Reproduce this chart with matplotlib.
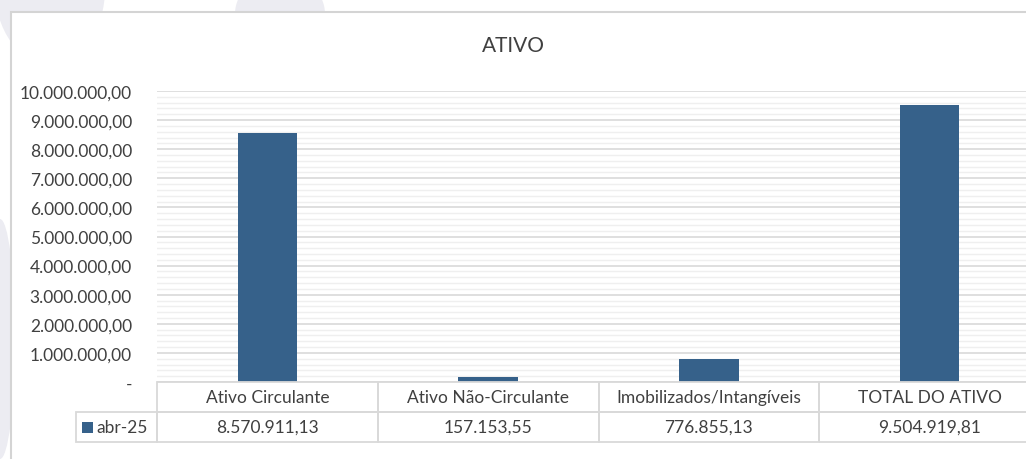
import matplotlib.pyplot as plt
from matplotlib.patches import Rectangle, Ellipse
from matplotlib.ticker import FuncFormatter, MultipleLocator
from matplotlib.transforms import blended_transform_factory

categories = ['Ativo Circulante', 'Ativo Não-Circulante', 'Imobilizados/Intangíveis', 'TOTAL DO ATIVO']
values = [8570911.13, 157153.55, 776855.13, 9504919.81]
series_name = 'abr-25'
title = 'ATIVO'

BAR = '#36618a'
TXT = '#404040'
GRID = '#d9d9d9'

plt.rcParams['font.family'] = ['Lato', 'DejaVu Sans']


def br_fmt(v, pos=None):
    if abs(v) < 0.005:
        return '-'
    s = f'{v:,.2f}'
    return s.replace(',', 'X').replace('.', ',').replace('X', '.')


fig = plt.figure(figsize=(10.26, 4.6), dpi=100)
W, H = 1026, 460

# faint watermark behind the chart frame
for (cx, cy, w, h) in [(50, 470, 110, 150), (280, 445, 90, 80), (0, 120, 30, 240)]:
    fig.patches.append(Ellipse((cx / W, cy / H), w / W, h / H, transform=fig.transFigure,
                               facecolor='#ececf2', edgecolor='none', zorder=0))
# chart frame
fig.patches.append(Rectangle((11 / W, -0.05), 1.1, 1 - 13 / H + 0.05, transform=fig.transFigure,
                             facecolor='white', edgecolor='#d4d4d4', linewidth=1.5, zorder=1))

ax_w_px, ax_h_px = 883, 291
ax = fig.add_axes([157 / W, 1 - 383 / H, ax_w_px / W, ax_h_px / H])
ax.set_zorder(2)
ax.patch.set_alpha(0)

x = list(range(len(categories)))
ax.bar(x, values, width=0.27, color=BAR, zorder=3)
ax.set_xlim(-0.5, len(categories) - 0.5)
ax.set_ylim(0, 10_000_000)
ax.yaxis.set_major_locator(MultipleLocator(1_000_000))
ax.yaxis.set_minor_locator(MultipleLocator(200_000))
ax.yaxis.set_major_formatter(FuncFormatter(br_fmt))
ax.grid(True, which='major', axis='y', color=GRID, linewidth=1.2, zorder=1)
ax.grid(True, which='minor', axis='y', color='#efefef', linewidth=1.0, zorder=0)
ax.tick_params(axis='y', which='both', length=0, labelsize=12.5, labelcolor=TXT, pad=18)
ax.set_xticks([])
for sp in ax.spines.values():
    sp.set_visible(False)

fig.text(0.5, 1 - 46 / H, title, ha='center', va='center', fontsize=15, color=TXT)

# data table under the axis (x in data units, y in axes units)
tr = blended_transform_factory(ax.transData, ax.transAxes)
row_h = 30 / ax_h_px
cell_kw = dict(facecolor='none', edgecolor=GRID, linewidth=1.3, clip_on=False, zorder=4)
for i, (cat, v) in enumerate(zip(categories, values)):
    ax.add_patch(Rectangle((i - 0.5, -row_h), 1, row_h, transform=tr, **cell_kw))
    ax.add_patch(Rectangle((i - 0.5, -2 * row_h), 1, row_h, transform=tr, **cell_kw))
    ax.text(i, -0.5 * row_h, cat, transform=tr, ha='center', va='center', fontsize=12.5, color=TXT)
    ax.text(i, -1.5 * row_h, br_fmt(v), transform=tr, ha='center', va='center', fontsize=12.5, color=TXT)
lab_w = 81 / ax_w_px
ax.add_patch(Rectangle((-lab_w, -2 * row_h), lab_w, row_h, transform=ax.transAxes, **cell_kw))
ax.add_patch(Rectangle((-lab_w + 6 / ax_w_px, -1.5 * row_h - 5.5 / ax_h_px), 11 / ax_w_px, 11 / ax_h_px,
                       transform=ax.transAxes, facecolor=BAR, edgecolor='none', clip_on=False, zorder=5))
ax.text(-lab_w + 20 / ax_w_px, -1.5 * row_h, series_name, transform=ax.transAxes,
        ha='left', va='center', fontsize=12.5, color=TXT)

fig.savefig('out.png', dpi=100)
